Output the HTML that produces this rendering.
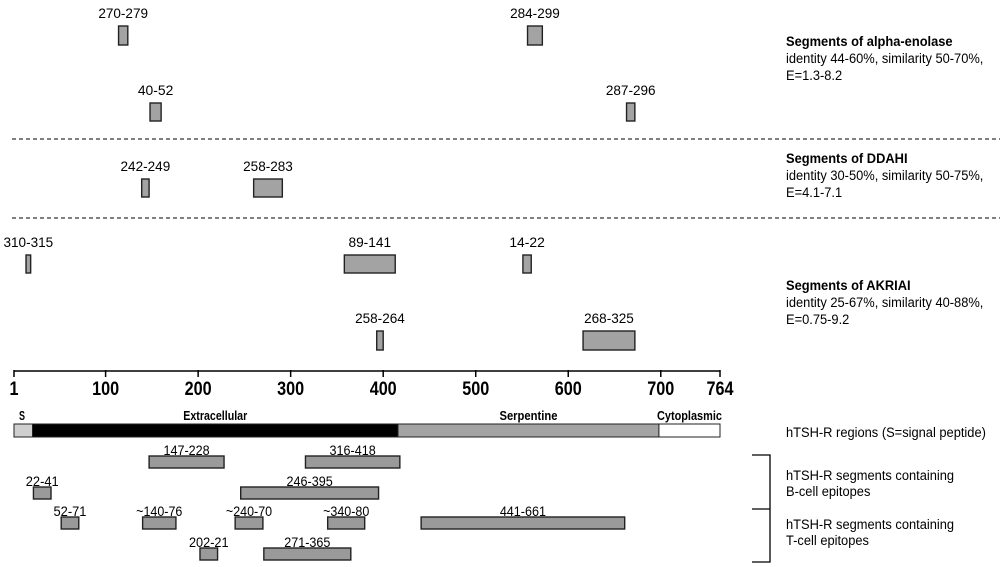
<!DOCTYPE html>
<html><head><meta charset="utf-8"><style>
html,body{margin:0;padding:0;background:#fff;}
svg{display:block;font-family:"Liberation Sans",Arial,sans-serif;}
</style></head><body>
<svg id="c" width="1000" height="567" viewBox="0 0 1000 567">
<g font-size="14" fill="#000" transform="translate(786,0) scale(0.92,1)">
<text x="0" y="46" font-weight="bold">Segments of alpha-enolase</text>
<text x="0" y="63">identity 44-60%, similarity 50-70%,</text>
<text x="0" y="80">E=1.3-8.2</text>
<text x="0" y="163" font-weight="bold">Segments of DDAHI</text>
<text x="0" y="180">identity 30-50%, similarity 50-75%,</text>
<text x="0" y="197">E=4.1-7.1</text>
<text x="0" y="290" font-weight="bold">Segments of AKRIAI</text>
<text x="0" y="307">identity 25-67%, similarity 40-88%,</text>
<text x="0" y="324">E=0.75-9.2</text>
<text x="0" y="437">hTSH-R regions (S=signal peptide)</text>
<text x="0" y="480">hTSH-R segments containing</text>
<text x="0" y="496">B-cell epitopes</text>
<text x="0" y="529">hTSH-R segments containing</text>
<text x="0" y="545">T-cell epitopes</text>
</g>
<path d="M752 455H770V562H752M752 509H770" fill="none" stroke="#000" stroke-width="1.3"/>
<line x1="12" y1="139" x2="1000" y2="139" stroke="#000" stroke-dasharray="4,3"/>
<line x1="12" y1="218" x2="1000" y2="218" stroke="#000" stroke-dasharray="4,3"/>
</svg>
<script>
var axisTicks = [1,100,200,300,400,500,600,700,764];
var homLabels = ["270-279","284-299","40-52","287-296","242-249","258-283","310-315","89-141","14-22","258-264","268-325"];
var homStarts = [114,556,148,663,139,260,14,358,551,393,616];
var homEnds   = [124,572,160,672,147,291,19,413,560,400,672];
var homRows   = [0,0,1,1,2,2,3,3,3,4,4];
var regionNames = ["S","Extracellular","Serpentine","Cytoplasmic"];
var regionStarts = [1,21,416,698];
var regionEnds = [21,416,698,764];
var epiLabels = ["147-228","316-418","22-41","246-395","52-71","~140-76","~240-70","~340-80","441-661","202-21","271-365"];
var epiStarts = [147,316,22,246,52,140,240,340,441,202,271];
var epiEnds   = [228,418,41,395,71,176,270,380,661,221,365];
var epiRows   = [0,0,1,1,2,2,2,2,2,3,3];

var NS="http://www.w3.org/2000/svg";
var svg=document.getElementById('c');
function x(v){return 14+(v-1)*0.9253;}
function mk(t,a,p){var e=document.createElementNS(NS,t);for(var k in a)e.setAttribute(k,a[k]);(p||svg).appendChild(e);return e;}
var homRowTop=[26,103,179,255,331], homRowH=[19,18,18,18,19], homLblY=[18,95,171,247,323];
var gH=mk('g',{});


for(var i=0;i<homLabels.length;i++){
  var r=homRows[i];
  var b=mk('rect',{x:x(homStarts[i]),y:homRowTop[r],width:x(homEnds[i])-x(homStarts[i]),height:homRowH[r],fill:'#a3a3a3',stroke:'#222','stroke-width':1.4},gH);
  
  
  var t=mk('text',{x:(x(homStarts[i])+x(homEnds[i]))/2,y:homLblY[r],'text-anchor':'middle','font-size':14,textLength:homLabels[i].length*7.1,lengthAdjust:'spacingAndGlyphs'},gH);
  t.textContent=homLabels[i];
  
  
}
var gA=mk('g',{});


var al=mk('line',{x1:x(1),x2:x(764),y1:371,y2:371,stroke:'#000','stroke-width':1.5},gA);


axisTicks.forEach(function(v){
  var tk=mk('line',{x1:x(v),x2:x(v),y1:370,y2:377,stroke:'#000','stroke-width':1.5},gA);
  
  
  var s=String(v);
  var tl=mk('text',{x:x(v),y:395,'text-anchor':'middle','font-size':19,'font-weight':'bold',textLength:s.length*9,lengthAdjust:'spacingAndGlyphs'},gA);
  tl.textContent=s;
  
  
});
var regFill=['#cfcfcf','#000','#a3a3a3','#fff'];
var regLen=[6,64,58,65];
var gR=mk('g',{});


for(var i=0;i<regionNames.length;i++){
  var rb=mk('rect',{x:x(regionStarts[i]),y:424,width:x(regionEnds[i])-x(regionStarts[i]),height:13,fill:regFill[i],stroke:'#222','stroke-width':1},gR);
  
  
  var cx=(x(regionStarts[i])+x(regionEnds[i]))/2;
  if(i==0) cx=x(regionStarts[i])+8;
  var rl=mk('text',{x:cx,y:420,'text-anchor':'middle','font-size':13,'font-weight':'bold',textLength:regLen[i],lengthAdjust:'spacingAndGlyphs'},gR);
  rl.textContent=regionNames[i];
  
  
}
var epiTop=[456,487,517,548];
var gE=mk('g',{});


for(var i=0;i<epiLabels.length;i++){
  var r=epiRows[i];
  var eb=mk('rect',{x:x(epiStarts[i]),y:epiTop[r],width:x(epiEnds[i])-x(epiStarts[i]),height:12,fill:'#9a9a9a',stroke:'#222','stroke-width':1.4},gE);
  
  
  var el=mk('text',{x:(x(epiStarts[i])+x(epiEnds[i]))/2,y:epiTop[r]-1,'text-anchor':'middle','font-size':14,textLength:epiLabels[i].length*6.6,lengthAdjust:'spacingAndGlyphs'},gE);
  el.textContent=epiLabels[i];
  
  
}
</script>
</body></html>
